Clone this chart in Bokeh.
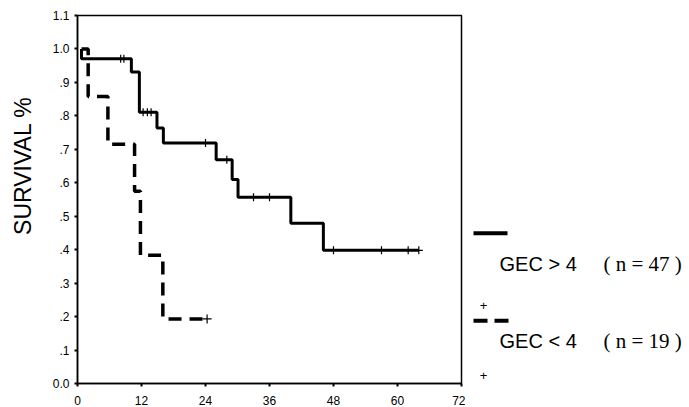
import math
from bokeh.plotting import figure
from bokeh.layouts import row
from bokeh.models import FixedTicker, Range1d
from bokeh.core.properties import value
from bokeh.embed import file_html
from bokeh.resources import INLINE

# ---- data ----
months_hi = [0.75, 0.75, 10.1, 11.6, 14.9, 16.1, 26.0, 29.0, 30.1, 40.0, 46.1, 64.0]
surv_hi = [1.0, 0.971, 0.931, 0.811, 0.764, 0.719, 0.669, 0.61, 0.557, 0.479, 0.398, 0.398]

months_lo = [0.75, 2.0, 5.7, 10.7, 11.8, 16.0, 23.5]
surv_lo = [1.0, 0.858, 0.715, 0.575, 0.383, 0.193, 0.193]

cens_hi_t = [8.1, 8.7, 12.3, 13.1, 13.8, 24.0, 28.0, 33.0, 36.0, 48.0, 57.0, 62.0, 64.0]
cens_hi_s = [0.971, 0.971, 0.811, 0.811, 0.811, 0.719, 0.669, 0.557, 0.557, 0.398, 0.398, 0.398, 0.398]
cens_lo_t = [24.3]
cens_lo_s = [0.193]

x_ticks = [0, 12, 24, 36, 48, 60, 72]
y_ticks = [0.0, 0.1, 0.2, 0.3, 0.4, 0.5, 0.6, 0.7, 0.8, 0.9, 1.0, 1.1]
y_labels = ["0.0", ".1", ".2", ".3", ".4", ".5", ".6", ".7", ".8", ".9", "1.0", "1.1"]

y_title = "SURVIVAL %"
legend_names = ["GEC > 4", "GEC < 4"]
legend_n = ["( n = 47 )", "( n = 19 )"]

FONT = "Liberation Sans"
H = 405          # common canvas height
TOP, BOT = 15, 383   # page y of the plot frame (side panels share it)
TW = 40          # width of the panel holding the y title
LW = 222         # width of the legend panel


def blank_panel(w):
    f = figure(width=w, height=H, x_range=Range1d(0, w), y_range=Range1d(BOT, TOP),
               output_backend="svg", toolbar_location=None,
               min_border=0, min_border_left=0, min_border_right=0,
               min_border_top=TOP, min_border_bottom=H - BOT)
    f.axis.visible = False
    f.grid.visible = False
    f.outline_line_color = None
    f.background_fill_color = "white"
    f.border_fill_color = "white"
    return f


# ---- y title panel ----
tp = blank_panel(TW)
tp.text(x=[22], y=[166], text=[y_title], angle=math.pi / 2, text_align="center",
        text_baseline="middle", text_font=value(FONT), text_font_size="23px", text_color="black")

# ---- main plot ----
p = figure(frame_width=384, frame_height=BOT - TOP, x_range=Range1d(0, 72), y_range=Range1d(0, 1.1),
           output_backend="svg", toolbar_location=None,
           min_border_left=77 - TW, min_border_right=4, min_border_top=TOP, min_border_bottom=H - BOT)
p.background_fill_color = "white"
p.border_fill_color = "white"
p.outline_line_color = "black"
p.outline_line_width = 1.5
p.grid.visible = False

p.xaxis.ticker = FixedTicker(ticks=x_ticks)
p.yaxis.ticker = FixedTicker(ticks=y_ticks)
p.yaxis.major_label_overrides = {t: l for t, l in zip(y_ticks, y_labels)}
for ax in (p.xaxis, p.yaxis):
    ax.axis_line_color = "black"
    ax.axis_line_width = 1.5
    ax.major_tick_line_color = "black"
    ax.major_tick_line_width = 2
    ax.major_tick_in = 0
    ax.major_tick_out = 3
    ax.minor_tick_line_color = None
    ax.major_label_text_font = FONT
    ax.major_label_text_font_size = "12px"
    ax.major_label_text_color = "black"
p.yaxis.major_label_standoff = 5
p.xaxis.major_label_standoff = 9

p.step(months_hi, surv_hi, mode="after", line_color="black", line_width=3)
p.step(months_lo, surv_lo, mode="after", line_color="black", line_width=3.5, line_dash="13 8")
p.scatter(cens_hi_t, cens_hi_s, marker="cross", size=8, line_color="black", line_width=1.2)
p.scatter(cens_lo_t, cens_lo_s, marker="cross", size=9, line_color="black", line_width=1.2)

# ---- legend panel (SPSS style) ----
lg = blank_panel(LW)
ox = 465  # page x where the legend panel starts
lg.segment(x0=[473 - ox], y0=[234], x1=[507 - ox], y1=[234], line_color="black", line_width=4)
lg.segment(x0=[473 - ox], y0=[322], x1=[508 - ox], y1=[322], line_color="black", line_width=4,
           line_dash="14 7")
lg.text(x=[483 - ox, 483 - ox], y=[307, 377], text=["+", "+"], text_align="center",
        text_baseline="middle", text_font=value(FONT), text_font_size="13px", text_color="black")
lg.text(x=[499 - ox, 499 - ox], y=[265, 342], text=legend_names, text_baseline="alphabetic",
        text_font=value(FONT), text_font_size="20px", text_color="black")
lg.text(x=[603 - ox, 603 - ox], y=[265, 342], text=legend_n, text_baseline="alphabetic",
        text_font=value("Liberation Serif"), text_font_size="21px", text_color="black")

layout = row(tp, p, lg)
open("out.html", "w").write(file_html(layout, INLINE))
